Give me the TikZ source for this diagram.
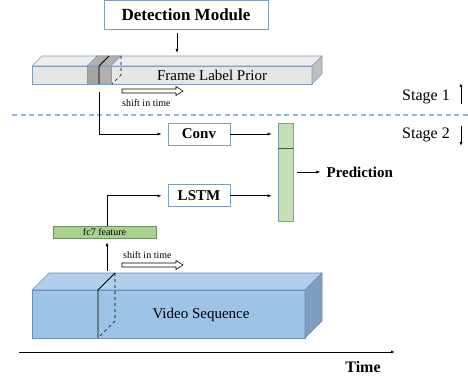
\documentclass[tikz,border=0pt]{standalone}
\usepackage{fontspec}
\setmainfont{Liberation Serif}
\usetikzlibrary{arrows.meta,positioning}

\definecolor{boxline}{HTML}{7F9DC0}
\definecolor{barfront}{HTML}{E6E6E6}
\definecolor{bartop}{HTML}{EDEDED}
\definecolor{barside}{HTML}{BFBFBF}
\definecolor{framedark}{HTML}{A6A3A3}
\definecolor{framelight}{HTML}{B3AFAF}
\definecolor{colgreen}{HTML}{C5E0B4}
\definecolor{colline}{HTML}{8497B0}
\definecolor{fcgreen}{HTML}{A9D18E}
\definecolor{fcline}{HTML}{6E8F5C}
\definecolor{vidfront}{HTML}{9DC3E6}
\definecolor{vidtop}{HTML}{B1CEEA}
\definecolor{vidside}{HTML}{7F9DBD}
\definecolor{vidline}{HTML}{6A8DBA}
\definecolor{stageblue}{HTML}{8DB4E2}

\tikzset{
  module/.style={draw=boxline, line width=0.8pt, fill=white, minimum width=62pt,
    minimum height=22pt, inner sep=0pt, font=\fontsize{15}{17}\selectfont\bfseries},
  label15/.style={inner sep=0pt, font=\fontsize{15}{17}\selectfont},
  small/.style={inner sep=0pt, font=\fontsize{10}{12}\selectfont},
  link/.style={->, line width=0.6pt},
  stageline/.style={draw=stageblue, line width=1.2pt, dash pattern=on 5pt off 3.5pt},
  shiftarrow/.pic={
    \draw[line width=0.6pt, fill=white] (0,-2) -- (54,-2) -- (54,-4.5) -- (61,0)
      -- (54,4.5) -- (54,2) -- (0,2) -- cycle;
  }
}

\begin{document}
\begin{tikzpicture}[x=1pt, y=-1pt, >={Latex[length=4pt,width=3pt]}]
  \useasboundingbox (0,0) rectangle (468,379);

  % stage 1: detection and frame label prior
  \node[module, minimum width=164pt, minimum height=29pt,
    font=\fontsize{17}{19}\selectfont\bfseries] (det) at (186,15) {Detection Module};
  \coordinate (priortop) at (177,53);
  \draw[link] (priortop |- det.south) ++(0,3) -- (priortop);

  \filldraw[draw=boxline, fill=barfront, line width=0.6pt] (32,66) rectangle (312,84);
  \filldraw[draw=boxline, fill=bartop, line width=0.6pt] (32,66) -- (42,56) -- (322,56) -- (312,66) -- cycle;
  \filldraw[draw=boxline, fill=barside, line width=0.6pt] (312,66) -- (322,56) -- (322,74) -- (312,84) -- cycle;
  \filldraw[draw=boxline, fill=framedark, line width=0.6pt] (87,66) rectangle (99,84);
  \filldraw[draw=boxline, fill=framelight, line width=0.6pt] (99,66) rectangle (111,84);
  \filldraw[draw=boxline, fill=framelight, line width=0.6pt] (87,66) -- (97,56) -- (121,56) -- (111,66) -- cycle;
  \draw[line width=0.8pt] (99,84) -- (99,66) -- (109,56);
  \draw[line width=0.6pt, dashed] (121,56) -- (121,75) -- (112,84);
  \node[label15] (prior) at (212,75) {Frame Label Prior};

  \pic at (122,91) {shiftarrow};
  \node[small, anchor=west] (shift1) at (122,103) {shift in time};

  \node[inner sep=0pt, anchor=base west, font=\fontsize{16}{18}\selectfont] (stage1) at (402,101) {Stage 1};
  \draw[link, line width=0.9pt] (stage1.base east) ++(11,3) -- ++(0,-21);

  \coordinate (s0) at (12,115);
  \coordinate (s1) at (468,115);
  \draw[stageline] (s0) -- (s1);

  % stage 2: conv and lstm
  \node[inner sep=0pt, anchor=base west, font=\fontsize{16}{18}\selectfont] (stage2) at (402,139) {Stage 2};
  \draw[link, line width=0.9pt] (stage2.base east) ++(11,-13) -- ++(0,20);

  \node[module] (conv) at (199,134) {Conv};
  \node[module, below=39pt of conv] (lstm) {LSTM};
  \node[draw=colline, fill=colgreen, line width=0.8pt, minimum width=15pt,
    minimum height=98pt, inner sep=0pt] (pred) at (285.5,172) {};
  \draw[line width=0.8pt, draw=black!70] ([yshift=-26pt]pred.north west) -- ([yshift=-26pt]pred.north east);
  \node[inner sep=0pt, right=33pt of pred, font=\fontsize{15}{17}\selectfont\bfseries] (predtext) {Prediction};

  \coordinate (tap) at (99,92);
  \draw[link, shorten >=6pt] (tap) |- (conv);
  \draw[link, shorten >=6pt] (conv) -- (conv -| pred.west);
  \draw[link, shorten >=6pt] (lstm) -- (lstm -| pred.west);
  \draw[link, shorten <=4pt, shorten >=6pt] (pred) -- (predtext);

  \node[draw=fcline, fill=fcgreen, line width=0.6pt, minimum width=103pt,
    minimum height=12pt, small] (fc7) at (104.5,232) {fc7 feature};
  \draw[link, shorten >=6pt] ([xshift=2.5pt]fc7.north) |- (lstm);

  % video sequence
  \filldraw[draw=vidline, fill=vidfront, line width=0.6pt] (32,290) rectangle (305,338);
  \filldraw[draw=vidline, fill=vidtop, line width=0.6pt] (32,290) -- (49,273) -- (322,273) -- (305,290) -- cycle;
  \filldraw[draw=vidline, fill=vidside, line width=0.6pt] (305,290) -- (322,273) -- (322,321) -- (305,338) -- cycle;
  \draw[line width=0.8pt] (98,338) -- (98,290) -- (115,273);
  \draw[line width=0.6pt, dashed] (115,273) -- (115,321) -- (98,338);
  \node[label15] (video) at (201,315) {Video Sequence};

  \coordinate (vtap) at (107,271);
  \draw[link, shorten >=4pt] (vtap) -- (vtap |- fc7.south);
  \pic at (122,265) {shiftarrow};
  \node[small, anchor=west] (shift2) at (123,255) {shift in time};

  % time axis
  \coordinate (t0) at (19,352);
  \coordinate (t1) at (395,352);
  \draw[link, line width=0.9pt] (t0) -- (t1);
  \node[inner sep=0pt, font=\fontsize{16}{18}\selectfont\bfseries] (time) at (363,367) {Time};
\end{tikzpicture}
\end{document}
